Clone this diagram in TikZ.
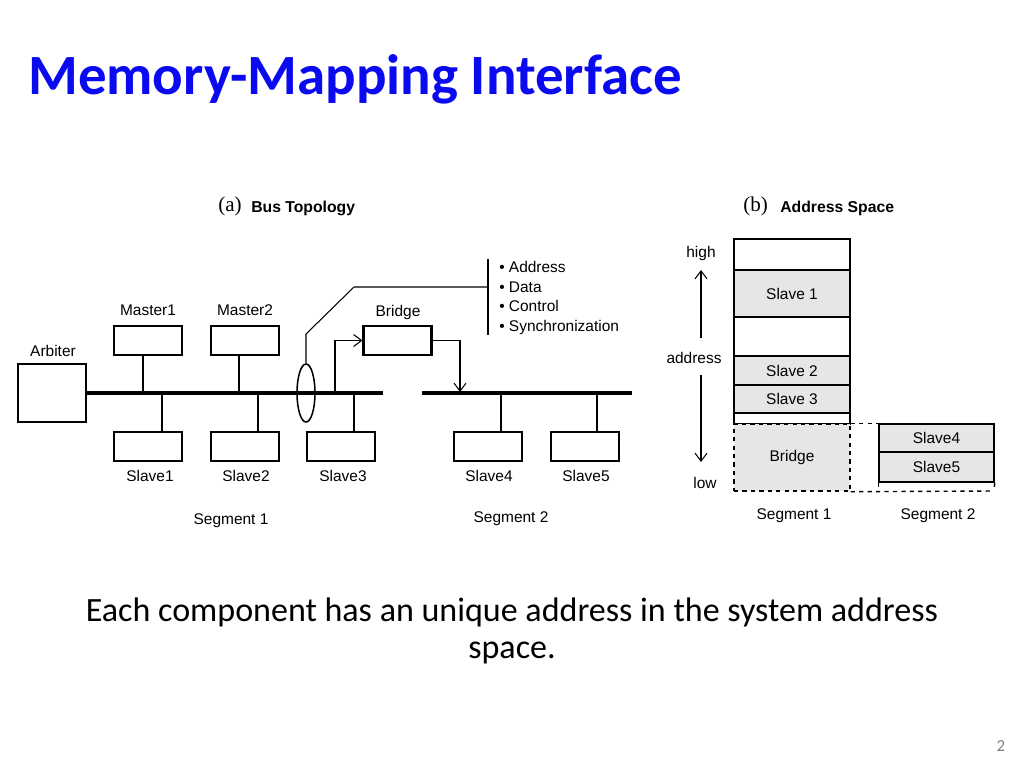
\documentclass[tikz,border=0pt]{standalone}
\usepackage{fontspec}
\setmainfont{Carlito}
\newfontfamily\arial{Liberation Sans}
\newfontfamily\tnr{Liberation Serif}
\usepackage{xcolor}
\usepackage{tikz}
\usetikzlibrary{arrows.meta}
\usetikzlibrary{calc}
\usetikzlibrary{positioning}
\usetikzlibrary{shapes.geometric}
\definecolor{titleblue}{RGB}{10,10,240}
\definecolor{cellgray}{RGB}{230,230,230}
\newcommand{\upx}{0.25mm}

\begin{document}
\begin{tikzpicture}[x=0.25mm, y=-0.25mm,
    box/.style={draw=black, line width=1.5pt, minimum width=68*\upx, minimum height=29*\upx, inner sep=0pt},
    lbl/.style={font=\arial\fontsize{11}{13}\selectfont, inner sep=0pt},
    head/.style={font=\arial\bfseries\fontsize{11.2}{13}\selectfont, inner sep=0pt},
    bus/.style={line width=2.8pt},
    wire/.style={line width=0.75pt},
    arr/.style={line width=0.75pt, -{Straight Barb[length=2mm, width=3mm]}},
    cell/.style={draw=black, line width=1pt, minimum width=116*\upx, inner sep=0pt, font=\arial\fontsize{11}{13}\selectfont}]
    \useasboundingbox (0,0) rectangle (1024,768);

    \node[anchor=base west, text=titleblue, font=\bfseries\fontsize{40.5}{48}\selectfont, inner sep=0pt] (T) at (28,94) {Memory-Mapping Interface};

    \node[anchor=base west, font=\tnr\fontsize{15}{17}\selectfont, inner sep=0pt] (Ha) at (218,211) {(a)};
    \node[head, anchor=base west] (Hat) at (251,212) {Bus Topology};

    \node[box, minimum width=68*\upx, minimum height=58*\upx] (Ar) at (52,393) {};
    \node[lbl] (ArL) at (53,351) {Arbiter};
    \node[box] (M1) at (148,340.5) {};
    \node[lbl] (M1L) at (148,310) {Master1};
    \node[box] (M2) at (245,340.5) {};
    \node[lbl] (M2L) at (245,310) {Master2};
    \node[box] (Br) at (397.5,340.5) {};
    \node[lbl] (BrL) at (398,312) {Bridge};
    \node[box] (S1) at (148,446.5) {};
    \node[lbl] (S1L) at (150,476) {Slave1};
    \node[box] (S2) at (245,446.5) {};
    \node[lbl] (S2L) at (246,476) {Slave2};
    \node[box] (S3) at (341,446.5) {};
    \node[lbl] (S3L) at (343,476) {Slave3};
    \node[box] (S4) at (488,446.5) {};
    \node[lbl] (S4L) at (489,476) {Slave4};
    \node[box] (S5) at (585,446.5) {};
    \node[lbl] (S5L) at (586,476) {Slave5};
    \node[lbl] (G1) at (231,521) {Segment 1};
    \node[lbl] (G2) at (511,519) {Segment 2};

    \coordinate (B1R) at (383,393);
    \coordinate (B2L) at (422,393);
    \coordinate (B2R) at (632,393);
    \coordinate (tap) at (335,393);
    \coordinate (tap2) at (460,392);
    \draw[bus] (Ar.east) -- (B1R);
    \draw[bus] (B2L) -- (B2R);

    \draw[wire] ($(M1.south)+(-5,0)$) -- ++(0,38);
    \draw[wire] ($(M2.south)+(-6,0)$) -- ++(0,38);
    \draw[wire] ($(S1.north)+(14,0)$) -- ++(0,-39);
    \draw[wire] ($(S2.north)+(13,0)$) -- ++(0,-39);
    \draw[wire] ($(S3.north)+(13,0)$) -- ++(0,-39);
    \draw[wire] ($(S4.north)+(13,0)$) -- ++(0,-39);
    \draw[wire] ($(S5.north)+(12,0)$) -- ++(0,-39);

    \draw[arr] (tap) |- (Br.west);
    \draw[arr] (Br.east) -| (tap2);

    \node[draw=black, line width=1.1pt, ellipse, minimum width=18*\upx, minimum height=58*\upx, inner sep=0pt] (E) at (306,393) {};
    \node[anchor=west, align=left, inner xsep=0pt, inner ysep=0pt, font=\arial\fontsize{11}{13.9}\selectfont] (Lst) at (499,298)
      {\textbullet\ Address\\\textbullet\ Data\\\textbullet\ Control\\\textbullet\ Synchronization};
    \coordinate (barT) at (488,259);
    \coordinate (barB) at (488,335);
    \draw[wire] (barT) -- (barB);
    \draw[wire] (E.north) -- (306,334) -- (354,287) -- (barT |- 354,287);

    \node[anchor=base west, font=\tnr\fontsize{15}{17}\selectfont, inner sep=0pt] (Hb) at (743,211) {(b)};
    \node[head, anchor=base west] (Hbt) at (780,212) {Address Space};

    \node[cell, minimum height=31*\upx] (C0) at (792,254.5) {};
    \node[cell, fill=cellgray, minimum height=47*\upx] (C1) at (792,293.5) {Slave 1};
    \node[cell, minimum height=39*\upx] (C2) at (792,336.5) {};
    \node[cell, fill=cellgray, minimum height=29*\upx] (C3) at (792,370.5) {Slave 2};
    \node[cell, fill=cellgray, minimum height=28*\upx] (C4) at (792,399) {Slave 3};
    \node[cell, minimum height=11*\upx] (C5) at (792,418.5) {};
    \node[cell, fill=cellgray, dashed, minimum height=67*\upx] (C6) at (792,457.5) {Bridge};
    \node[cell, fill=cellgray, minimum width=115*\upx, minimum height=28*\upx] (D1) at (936.5,438) {Slave4};
    \node[cell, fill=cellgray, minimum width=115*\upx, minimum height=30*\upx] (D2) at (936.5,467) {Slave5};
    \coordinate (D3) at (994,491);
    \draw[dashed, line width=1pt] (C6.north east) -- (D1.north west);
    \draw[dashed, line width=1pt] (C6.south east) -- (D3);
    \draw[dashed, line width=1pt] (D2.south west) -- (D2.south west |- D3);
    \draw[dashed, line width=1pt] (D2.south east) -- (D3);

    \node[lbl] (Hi) at (701,253) {high};
    \node[lbl] (Ad) at (694,358) {address};
    \node[lbl] (Lo) at (705,483) {low};
    \coordinate (up0) at (701,338);
    \coordinate (up1) at (701,270);
    \coordinate (dn0) at (701,375);
    \coordinate (dn1) at (701,462);
    \draw[arr] (up0) -- (up1);
    \draw[arr] (dn0) -- (dn1);
    \node[lbl] (G3) at (794,516) {Segment 1};
    \node[lbl] (G4) at (938,516) {Segment 2};

    \node[align=center, font=\fontsize{24.2}{26.3}\selectfont, inner sep=0pt] (Txt) at (512,631)
      {Each component has an unique address in the system address\\space.};
    \node[text=gray, font=\fontsize{12}{14}\selectfont, inner sep=0pt] (Pg) at (1001,746) {2};
  \end{tikzpicture}
\end{document}
